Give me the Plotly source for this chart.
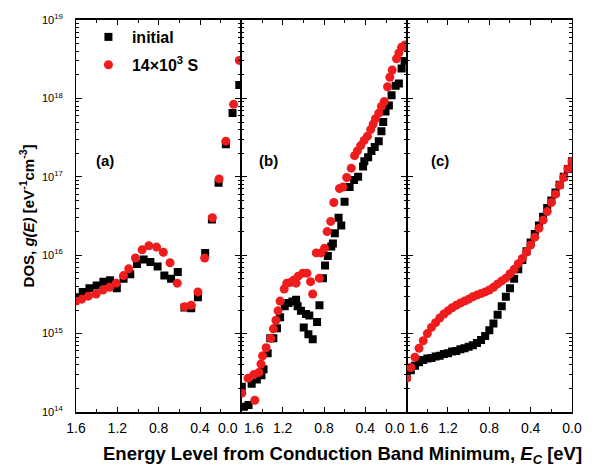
import math
import plotly.graph_objects as go

FONT = "Liberation Sans, Arial, sans-serif"

# ---- (a) ----
energy_a_initial = [1.60, 1.535, 1.47, 1.40, 1.335, 1.27, 1.205, 1.14, 1.075, 1.01, 0.945, 0.88, 0.81,
                    0.745, 0.68, 0.615, 0.55, 0.485, 0.42, 0.35, 0.285, 0.22, 0.15, 0.085, 0.02]
dos_a_initial = [2.9e15, 3.4e15, 3.8e15, 4.1e15, 4.6e15, 4.8e15, 3.8e15, 5.0e15, 5.7e15, 7.7e15, 8.8e15,
                 8.2e15, 7.2e15, 5.5e15, 5.0e15, 6.1e15, 2.15e15, 2.1e15, 2.9e15, 1.07e16, 2.85e16,
                 8.4e16, 2.6e17, 6.5e17, 1.48e18]
energy_a_stress = [1.60, 1.545, 1.48, 1.405, 1.34, 1.275, 1.21, 1.14, 1.09, 1.025, 0.96, 0.895, 0.82,
                   0.755, 0.69, 0.62, 0.55, 0.485, 0.42, 0.355, 0.28, 0.215, 0.15, 0.075, 0.02]
dos_a_stress = [2.6e15, 2.75e15, 3.0e15, 3.2e15, 3.6e15, 3.9e15, 4.4e15, 5.5e15, 6.7e15, 9.2e15, 1.17e16,
                1.32e16, 1.27e16, 1.09e16, 8.0e15, 4.4e15, 2.2e15, 2.3e15, 3.4e15, 9.2e15, 3.0e16,
                9.4e16, 2.85e17, 8.4e17, 3.05e18]

# ---- (b) ----
energy_b_initial = [1.595, 1.575, 1.53, 1.50, 1.45, 1.405, 1.385, 1.345, 1.32, 1.29, 1.255, 1.225, 1.18,
                    1.145, 1.105, 1.07, 1.055, 1.023, 0.996, 0.974, 0.951, 0.942, 0.909, 0.867, 0.844,
                    0.81, 0.79, 0.763, 0.73, 0.714, 0.695, 0.659, 0.633, 0.601, 0.552, 0.509, 0.47,
                    0.422, 0.41, 0.373, 0.341, 0.309, 0.27, 0.244, 0.227, 0.205, 0.172, 0.146, 0.107,
                    0.075, 0.049, 0.02, 0.0]
dos_b_initial = [2.1e14, 1.17e14, 1.23e14, 2.3e14, 2.6e14, 2.95e14, 3.5e14, 5.6e14, 8.7e14, 8.7e14,
                 1.17e15, 1.62e15, 2.24e15, 2.45e15, 2.57e15, 2.7e15, 2.24e15, 1.95e15, 1.2e15, 1.78e15,
                 9.8e14, 1.7e15, 8.5e14, 1.41e15, 2.3e15, 5.1e15, 7.4e15, 9.8e15, 1.29e16, 1.41e16,
                 1.9e16, 3.0e16, 2.4e16, 4.8e16, 7.4e16, 9.1e16, 1.0e17, 1.35e17, 1.58e17, 1.78e17,
                 2.14e17, 2.4e17, 2.85e17, 3.8e17, 5.0e17, 6.8e17, 8.1e17, 1.1e18, 1.45e18, 1.55e18,
                 2.4e18, 3.0e18, 3.0e18]
energy_b_stress = [1.595, 1.535, 1.48, 1.47, 1.43, 1.41, 1.395, 1.36, 1.315, 1.29, 1.265, 1.245, 1.225,
                   1.185, 1.16, 1.125, 1.095, 1.07, 1.05, 1.005, 0.965, 0.93, 0.91, 0.875, 0.845, 0.83,
                   0.795, 0.77, 0.735, 0.705, 0.65, 0.617, 0.58, 0.536, 0.504, 0.477, 0.445, 0.412,
                   0.38, 0.348, 0.324, 0.302, 0.27, 0.244, 0.217, 0.185, 0.163, 0.14, 0.098, 0.075,
                   0.049, 0.017, 0.0]
dos_b_stress = [1.74e14, 2.7e14, 3.0e14, 1.41e14, 3.2e14, 4.1e14, 5.2e14, 6.6e14, 8.7e14, 1.15e15,
                1.48e15, 1.95e15, 2.6e15, 3.7e15, 4.4e15, 4.5e15, 4.8e15, 4.4e15, 5.4e15, 5.9e15,
                5.9e15, 4.6e15, 3.2e15, 1.07e16, 5.1e15, 1.07e16, 1.23e16, 2.0e16, 2.7e16, 4.7e16,
                7.1e16, 7.4e16, 9.8e16, 1.29e17, 1.86e17, 2.14e17, 2.5e17, 2.9e17, 3.3e17, 4.0e17,
                4.7e17, 5.5e17, 6.5e17, 7.9e17, 9.1e17, 1.41e18, 1.86e18, 2.3e18, 3.2e18, 3.8e18,
                4.5e18, 4.8e18, 4.5e18]

# ---- (c) ----
energy_c = [1.60, 1.56, 1.52, 1.48, 1.44, 1.40, 1.36, 1.32, 1.28, 1.24, 1.20, 1.16, 1.12, 1.08,
            1.04, 1.00, 0.96, 0.92, 0.88, 0.84, 0.80, 0.76, 0.72, 0.68, 0.64, 0.60, 0.56, 0.52,
            0.48, 0.44, 0.40, 0.36, 0.32, 0.28, 0.24, 0.20, 0.16, 0.12, 0.08, 0.04, 0.00]
dos_c_initial = [2.8e14, 3.4e14, 3.9e14, 4.3e14, 4.6e14, 4.8e14, 4.9e14, 5.1e14, 5.2e14, 5.5e14,
                 5.6e14, 5.9e14, 6.0e14, 6.3e14, 6.5e14, 6.8e14, 7.1e14, 7.6e14, 8.3e14, 9.3e14,
                 1.1e15, 1.35e15, 1.74e15, 2.24e15, 2.95e15, 3.8e15, 5.0e15, 6.6e15, 8.7e15,
                 1.12e16, 1.45e16, 1.86e16, 2.4e16, 3.1e16, 4.0e16, 5.0e16, 6.3e16, 7.9e16, 1.0e17,
                 1.26e17, 1.58e17]
dos_c_stress = [2.7e14, 3.7e14, 5.0e14, 6.5e14, 8.1e14, 1.0e15, 1.2e15, 1.38e15, 1.58e15, 1.78e15,
                1.95e15, 2.14e15, 2.3e15, 2.45e15, 2.6e15, 2.75e15, 2.95e15, 3.1e15, 3.24e15, 3.4e15,
                3.6e15, 3.9e15, 4.3e15, 4.7e15, 5.1e15, 5.8e15, 6.6e15, 7.8e15, 9.1e15, 1.1e16,
                1.35e16, 1.7e16, 2.2e16, 2.8e16, 3.6e16, 4.7e16, 6.0e16, 7.8e16, 9.8e16, 1.26e17,
                1.58e17]

series_names = ["initial", "14\u00d710<sup>3</sup> S"]
panel_labels = ["(a)", "(b)", "(c)"]
panel_label_energy = [1.32, 1.34, 1.28]
panel_label_dos = 1.6e17
x_tick_values = [1.6, 1.2, 0.8, 0.4, 0.0]
x_minor_values = [1.4, 1.0, 0.6, 0.2]
y_decades = [14, 15, 16, 17, 18, 19]

panels = [
    (energy_a_initial, dos_a_initial, energy_a_stress, dos_a_stress),
    (energy_b_initial, dos_b_initial, energy_b_stress, dos_b_stress),
    (energy_c, dos_c_initial, energy_c, dos_c_stress),
]

fig = go.Figure()
for k, (ei, di, es, ds) in enumerate(panels):
    xa = "x" if k == 0 else f"x{k + 1}"
    ya = "y" if k == 0 else f"y{k + 1}"
    fig.add_trace(go.Scatter(
        x=ei, y=di, mode="markers", name=f"<b>{series_names[0]}</b>", legendgroup="initial",
        showlegend=(k == 0), xaxis=xa, yaxis=ya,
        marker=dict(symbol="square", size=8, color="black", line=dict(width=0)),
    ))
    fig.add_trace(go.Scatter(
        x=es, y=ds, mode="markers", name=f"<b>{series_names[1]}</b>", legendgroup="stress",
        showlegend=(k == 0), xaxis=xa, yaxis=ya,
        marker=dict(symbol="circle", size=9, color="#ee1c1c", line=dict(width=0)),
    ))

x_tick_text = [
    ["1.6", "1.2", "0.8", "0.4", ""],
    ["", "1.2", "0.8", "0.4", ""],
    ["", "1.2", "0.8", "0.4", "0.0"],
]

common = dict(showline=True, linecolor="black", mirror="ticks",
              showgrid=False, zeroline=False, ticks="inside", tickcolor="black")

for k in range(3):
    xkey = "xaxis" if k == 0 else f"xaxis{k + 1}"
    ykey = "yaxis" if k == 0 else f"yaxis{k + 1}"
    fig.layout[xkey] = dict(
        **common,
        linewidth=1.5,
        domain=[k / 3, (k + 1) / 3],
        anchor="y" if k == 0 else f"y{k + 1}",
        range=[1.6, 0.0],
        tickmode="array", tickvals=x_tick_values, ticktext=x_tick_text[k],
        ticklen=5, tickwidth=1.2,
        minor=dict(tickmode="array", tickvals=x_minor_values, ticks="inside",
                   ticklen=3, tickcolor="black", showgrid=False),
        tickfont=dict(family=FONT, size=14, color="black"),
        ticklabelstandoff=2,
    )
    fig.layout[ykey] = dict(
        **common,
        linewidth=1.2,
        type="log",
        anchor="x" if k == 0 else f"x{k + 1}",
        range=[14, 19],
        tickmode="array",
        tickvals=[10 ** d for d in y_decades],
        ticktext=[f"10<sup>{d}</sup>" for d in y_decades],
        showticklabels=(k == 0),
        ticklen=6, tickwidth=1.2,
        minor=dict(tickmode="array",
                   tickvals=[m * 10 ** d for d in y_decades[:-1] for m in range(2, 10)],
                   ticks="inside", ticklen=3, tickcolor="black", showgrid=False),
        tickfont=dict(family=FONT, size=11, color="black"),
        ticklabelstandoff=10,
    )

annotations = []
# tick labels at the shared panel boundaries, set apart from each other
for xref, xv, shift, txt in [("x", 0.0, -13, "0.0"), ("x2", 1.6, 13, "1.6"),
                             ("x2", 0.0, -12, "0.0"), ("x3", 1.6, 12, "1.6")]:
    annotations.append(dict(x=xv, xref=xref, y=0, yref="paper", yanchor="middle", yshift=-16,
                            xshift=shift, text=txt, showarrow=False,
                            font=dict(family=FONT, size=14, color="black")))

# panel letters (annotation y on a log axis is given as log10)
for k, lab in enumerate(panel_labels):
    xref = "x" if k == 0 else f"x{k + 1}"
    yref = "y" if k == 0 else f"y{k + 1}"
    annotations.append(dict(x=panel_label_energy[k], xref=xref,
                            y=math.log10(panel_label_dos), yref=yref,
                            text=f"<b>{lab}</b>", showarrow=False,
                            font=dict(family=FONT, size=15, color="black")))

annotations.append(dict(
    x=0.537, xref="paper", y=-0.11, yref="paper", xanchor="center", yanchor="middle",
    text="<b>Energy Level from Conduction Band Minimum, <i>E</i><sub><i>C</i></sub> [eV]</b>",
    showarrow=False, font=dict(family=FONT, size=18.5, color="black")))
annotations.append(dict(
    x=-0.10, xref="paper", y=0.5, yref="paper", xanchor="center", yanchor="middle",
    textangle=-90,
    text="<b>DOS, <i>g(E)</i> [eV<sup>-1</sup>cm<sup>-3</sup>]</b>",
    showarrow=False, font=dict(family=FONT, size=15, color="black")))

fig.update_layout(
    width=594, height=470,
    margin=dict(l=76, r=19, t=14, b=58),
    paper_bgcolor="white", plot_bgcolor="white",
    annotations=annotations,
    showlegend=True,
    legend=dict(x=0.018, y=1.0, xanchor="left", yanchor="top", bgcolor="rgba(0,0,0,0)",
                traceorder="grouped", tracegroupgap=4, itemwidth=37,
                font=dict(family=FONT, size=16, color="black")),
)

fig.write_html("out.html")
